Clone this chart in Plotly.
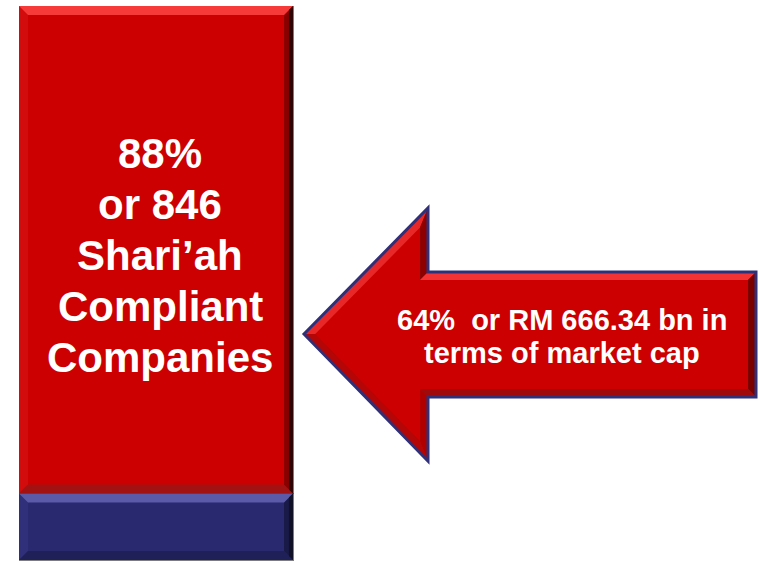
import plotly.graph_objects as go

# ---------------- data ----------------
segments = ["Non-Shari'ah compliant", "Shari'ah compliant"]
shares = [12, 88]                      # percent of listed companies
seg_colors = ["#29296F", "#CC0000"]
bar_lines = ["88%", "or 846", "Shari\u2019ah", "Compliant", "Companies"]
arrow_lines = ["64%  or RM 666.34 bn in", "terms of market cap"]

W, H = 759, 562
fig = go.Figure()
for name, val, col in zip(segments, shares, seg_colors):
    fig.add_trace(go.Bar(x=[0], y=[val], name=name, width=1,
                         marker=dict(color=col, line=dict(color="rgba(70,70,70,0.7)", width=1)),
                         hoverinfo="name+y"))

# axis geometry (pixels per unit) for bevel thickness
px_x = 274.0
px_y = 5.54
xr = [-0.5 - 19 / px_x, 0.5 + (W - 293) / px_x]
yr = [-(H - 560) / px_y, 100 + 6 / px_y]

shapes = []

def rect_bevel(x0, x1, y0, y1, t, cols):
    tx, ty = t / px_x, t / px_y
    ix0, ix1, iy0, iy1 = x0 + tx, x1 - tx, y0 + ty, y1 - ty
    polys = {
        "top": [(x0, y1), (x1, y1), (ix1, iy1), (ix0, iy1)],
        "bottom": [(x0, y0), (x1, y0), (ix1, iy0), (ix0, iy0)],
        "left": [(x0, y0), (x0, y1), (ix0, iy1), (ix0, iy0)],
        "right": [(x1, y0), (x1, y1), (ix1, iy1), (ix1, iy0)],
    }
    for k in ["left", "bottom", "right", "top"]:
        p = polys[k]
        path = "M " + " L ".join(f"{a},{b}" for a, b in p) + " Z"
        shapes.append(dict(type="path", path=path, xref="x", yref="y",
                           fillcolor=cols[k], line=dict(width=0)))
    # extra dark outer strip on right side
    tx2 = (t * 0.45) / px_x
    p = [(x1, y0), (x1, y1), (x1 - tx2, y1 - ty * 0.45), (x1 - tx2, y0 + ty * 0.45)]
    path = "M " + " L ".join(f"{a},{b}" for a, b in p) + " Z"
    shapes.append(dict(type="path", path=path, xref="x", yref="y",
                       fillcolor=cols["right2"], line=dict(width=0)))

bevel_cols = [
    dict(top="#5A5AA8", left="#30307A", right="#1A1A48", right2="#101026", bottom="#202058"),
    dict(top="#F63A3A", left="#D20C0C", right="#8A0000", right2="#2E0404", bottom="#A31212"),
]
base = 0
for val, cols in zip(shares, bevel_cols):
    rect_bevel(-0.5, 0.5, base, base + val, 9, cols)
    base += val

# ---------------- block arrow (decoration, pixel geometry) ----------------
arrow_px = [(304, 334), (428, 208), (428, 272), (756, 272), (756, 397), (428, 397), (428, 461)]
edge_cols = ["#E82828", "#8E0000", "#F43434", "#7A0000", "#A00A0A", "#B00000", "#B40606"]

def to_paper(p):
    return (p[0] / W, 1 - p[1] / H)

def inset(poly, d):
    n = len(poly)
    lines = []
    for i in range(n):
        (x1, y1), (x2, y2) = poly[i], poly[(i + 1) % n]
        dx, dy = x2 - x1, y2 - y1
        L = (dx * dx + dy * dy) ** 0.5
        nx, ny = -dy / L, dx / L
        lines.append(((x1 + nx * d, y1 + ny * d), (dx, dy)))
    out = []
    for i in range(n):
        (p1, d1), (p2, d2) = lines[i - 1], lines[i]
        den = d1[0] * d2[1] - d1[1] * d2[0]
        t = ((p2[0] - p1[0]) * d2[1] - (p2[1] - p1[1]) * d2[0]) / den
        out.append((p1[0] + d1[0] * t, p1[1] + d1[1] * t))
    return out

def ppath(pts):
    pp = [to_paper(p) for p in pts]
    return "M " + " L ".join(f"{a:.5f},{b:.5f}" for a, b in pp) + " Z"

inner = inset(arrow_px, 8)
n = len(arrow_px)
shapes.append(dict(type="path", path=ppath(arrow_px), xref="paper", yref="paper",
                   fillcolor="#CC0000", line=dict(width=0)))
for i in range(n):
    quad = [arrow_px[i], arrow_px[(i + 1) % n], inner[(i + 1) % n], inner[i]]
    shapes.append(dict(type="path", path=ppath(quad), xref="paper", yref="paper",
                       fillcolor=edge_cols[i], line=dict(width=0)))
shapes.append(dict(type="path", path=ppath(arrow_px), xref="paper", yref="paper",
                   fillcolor="rgba(0,0,0,0)", line=dict(color="#303078", width=3)))

# ---------------- text ----------------
annotations = []
fs_bar = 42
for i, txt in enumerate(bar_lines):
    base_y = 168 + 51 * i
    cy = base_y - 0.35 * fs_bar
    annotations.append(dict(text=txt, x=160 / W, y=1 - cy / H, xref="paper", yref="paper",
                            xanchor="center", yanchor="middle", showarrow=False,
                            font=dict(family="Liberation Sans, Arial", size=fs_bar,
                                      color="white", weight="bold")))
fs_ar = 29
for i, txt in enumerate(arrow_lines):
    base_y = 330 + 33 * i
    cy = base_y - 0.35 * fs_ar
    annotations.append(dict(text=txt, x=562 / W, y=1 - cy / H, xref="paper", yref="paper",
                            xanchor="center", yanchor="middle", showarrow=False,
                            font=dict(family="Liberation Sans, Arial", size=fs_ar,
                                      color="white", weight="bold")))

fig.update_layout(
    width=W, height=H, margin=dict(l=0, r=0, t=0, b=0),
    barmode="stack", showlegend=False,
    paper_bgcolor="white", plot_bgcolor="white",
    xaxis=dict(range=xr, visible=False, fixedrange=True),
    yaxis=dict(range=yr, visible=False, fixedrange=True),
    shapes=shapes, annotations=annotations,
)
fig.write_html("out.html", config={"displayModeBar": False},
               post_script="document.body.style.margin='0';document.body.style.overflow='hidden';")
